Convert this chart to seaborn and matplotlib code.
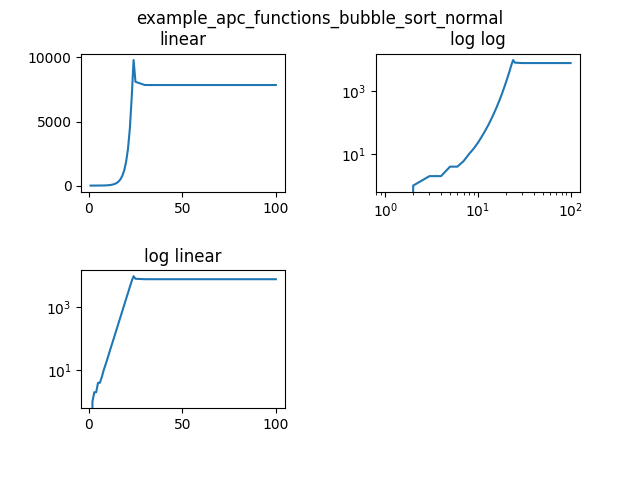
import matplotlib
matplotlib.use("Agg")
import matplotlib.pyplot as plt
from matplotlib.ticker import FixedLocator, LogFormatterSciNotation, NullLocator
import seaborn as sns
import pandas as pd

n = list(range(1, 101))
head = [0, 1, 2, 2, 4, 4, 6, 10, 15, 23, 36, 56, 86, 134, 207, 321, 497, 771,
        1195, 1852, 2870, 4450, 6900, 9800, 8100, 8050, 8000, 7950, 7900]
tail = [7850, 7850, 7850, 7850, 7850, 7850, 7850, 7850, 7850, 7850,
        7850, 7850, 7850, 7850, 7850, 7850, 7850, 7850, 7850, 7850,
        7850, 7850, 7850, 7850, 7850, 7850, 7850, 7850, 7850, 7850,
        7850, 7850, 7850, 7850, 7850, 7850, 7850, 7850, 7850, 7850,
        7850, 7850, 7850, 7850, 7850, 7850, 7850, 7850, 7850, 7850,
        7850, 7850, 7850, 7850, 7850, 7850, 7850, 7850, 7850, 7850,
        7850, 7850, 7850, 7850, 7850, 7850, 7850, 7850, 7850, 7850, 7850]
values = head + tail
df = pd.DataFrame({"n": n, "v": values})

fig, axes = plt.subplots(2, 2, figsize=(6.4, 4.8), dpi=100)
fig.subplots_adjust(left=0.127, right=0.906, top=0.888, bottom=0.15,
                    hspace=0.565, wspace=0.446)
fig.suptitle("example_apc_functions_bubble_sort_normal")
titles = ["linear", "log log", "log linear"]
for ax, t in zip([axes[0, 0], axes[0, 1], axes[1, 0]], titles):
    sns.lineplot(data=df, x="n", y="v", ax=ax)
    ax.set_title(t)
    ax.set_xlabel("")
    ax.set_ylabel("")
axes[0, 0].set_xticks([0, 50, 100])
axes[0, 0].set_yticks([0, 5000, 10000])
axes[1, 0].set_xticks([0, 50, 100])
axes[0, 1].set_xscale("log")
for ax in (axes[0, 1], axes[1, 0]):
    ax.set_yscale("log")
    ax.yaxis.set_major_locator(FixedLocator([10, 1000]))
    ax.yaxis.set_major_formatter(LogFormatterSciNotation())
    ax.yaxis.set_minor_locator(NullLocator())
axes[1, 1].axis("off")
fig.savefig("out.png")
